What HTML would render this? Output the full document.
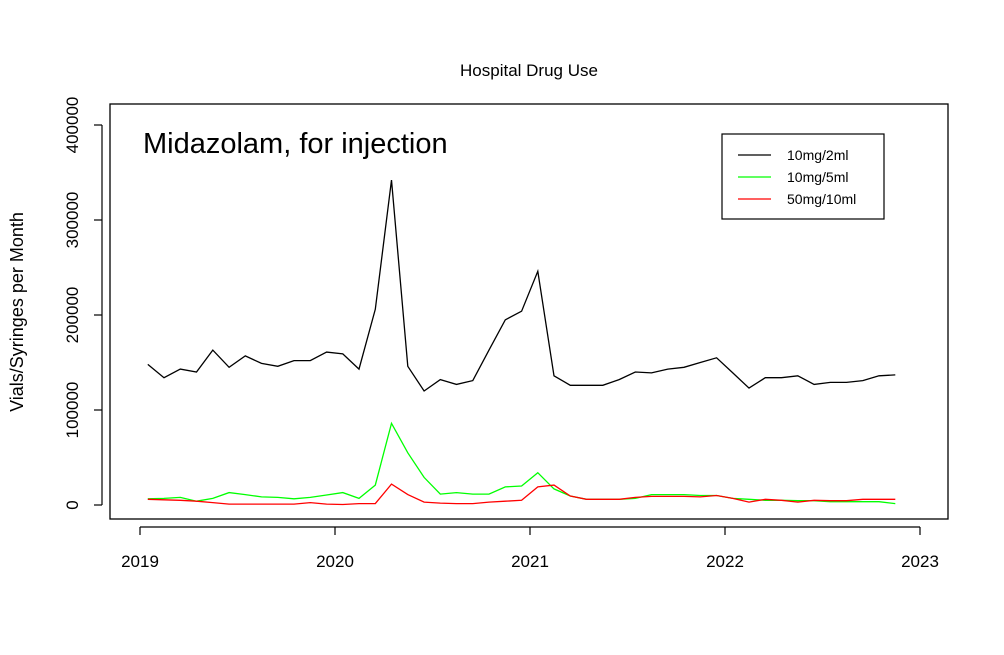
<!DOCTYPE html>
<html><head><meta charset="utf-8"><style>
body{margin:0;background:#fff;}
svg{display:block;font-family:"Liberation Sans",sans-serif;}
</style></head><body>
<svg id="chart" width="1004" height="655" viewBox="0 0 1004 655" xmlns="http://www.w3.org/2000/svg">
<rect width="1004" height="655" fill="#fff"/>
<text x="529" y="76" font-size="17" text-anchor="middle">Hospital Drug Use</text>
<rect x="110" y="104" width="838" height="415" fill="none" stroke="#000" stroke-width="1.3"/>
<text x="143" y="153" font-size="29">Midazolam, for injection</text>
<text transform="translate(23,312) rotate(-90)" font-size="18" text-anchor="middle">Vials/Syringes per Month</text>
<g id="axes"></g>
<g id="series"></g>
<g>
<rect x="722" y="134" width="162" height="85" fill="#fff" stroke="#000" stroke-width="1.2"/>
<line x1="738" y1="155" x2="771" y2="155" stroke="#000" stroke-width="1.2"/>
<text x="787" y="160" font-size="14">10mg/2ml</text>
<line x1="738" y1="177" x2="771" y2="177" stroke="#00ff00" stroke-width="1.2"/>
<text x="787" y="182" font-size="14">10mg/5ml</text>
<line x1="738" y1="199" x2="771" y2="199" stroke="#ff0000" stroke-width="1.2"/>
<text x="787" y="204" font-size="14">50mg/10ml</text>
</g>
</svg>
<script>
const startYear = 2019.04;
const s10mg2ml = [148000,134000,143000,140000,163000,145000,157000,149000,146000,152000,152000,161000,159000,143000,206000,342000,146000,120000,132000,127000,131000,163000,195000,204000,246000,136000,126000,126000,126000,132000,140000,139000,143000,145000,150000,155000,139000,123000,134000,134000,136000,127000,129000,129000,131000,136000,137000];
const s10mg5ml = [6500,7000,8000,4000,7000,13000,11000,8500,8000,6500,8000,10500,13000,7000,21000,86000,55000,29000,11500,13000,11500,11500,19000,20000,34000,17000,9500,6000,6000,6000,7000,11000,11000,11000,10000,10000,7000,6000,5000,5000,4500,4500,3500,3500,3500,3500,1500];
const s50mg10ml = [6000,5500,5000,4000,2500,1000,1000,1000,1000,1000,2500,1000,500,1500,1500,22000,11000,3000,2000,1500,1500,3000,4000,5000,19000,21000,9500,6000,6000,6000,8000,9000,9000,9000,8500,10000,7000,3000,6000,5000,3000,5000,4500,4500,6000,6000,6000];
const yTicks = [0,100000,200000,300000,400000];
const xTicks = [2019,2020,2021,2022,2023];
const NS = "http://www.w3.org/2000/svg";
function xs(t){return 140 + (t-2019)*195;}
function ys(v){return 505 - v*95/100000;}
const axes = document.getElementById('axes');
function mk(tag, attrs, parent){const e=document.createElementNS(NS,tag);for(const k in attrs)e.setAttribute(k,attrs[k]);parent.appendChild(e);return e;}
const yax = mk('line',{x1:102,x2:102,y1:ys(0),y2:ys(400000),stroke:'#000','stroke-width':1.2},axes);


yTicks.forEach(v=>{
  const l=mk('line',{x1:94,x2:102,y1:ys(v),y2:ys(v),stroke:'#000','stroke-width':1.2},axes);
  
  
  const t=mk('text',{transform:`translate(78,${ys(v)}) rotate(-90)`,'font-size':17,'text-anchor':'middle'},axes);
  
  
  t.textContent=v;
});
const xax = mk('line',{x1:xs(2019),x2:xs(2023),y1:527,y2:527,stroke:'#000','stroke-width':1.2},axes);


xTicks.forEach(v=>{
  const l=mk('line',{x1:xs(v),x2:xs(v),y1:527,y2:535,stroke:'#000','stroke-width':1.2},axes);
  
  
  const t=mk('text',{x:xs(v),y:567,'font-size':17,'text-anchor':'middle'},axes);
  
  
  t.textContent=v;
});
const series = document.getElementById('series');
function drawLine(arr,color,name){
  const pts=arr.map((v,i)=>xs(startYear+i/12).toFixed(1)+','+ys(v).toFixed(1)).join(' ');
  const p=mk('polyline',{points:pts,fill:'none',stroke:color,'stroke-width':1.3},series);
  
  
}
drawLine(s10mg5ml,'#00ff00','series-10mg-5ml');
drawLine(s50mg10ml,'#ff0000','series-50mg-10ml');
drawLine(s10mg2ml,'#000000','series-10mg-2ml');
</script>
</body></html>
